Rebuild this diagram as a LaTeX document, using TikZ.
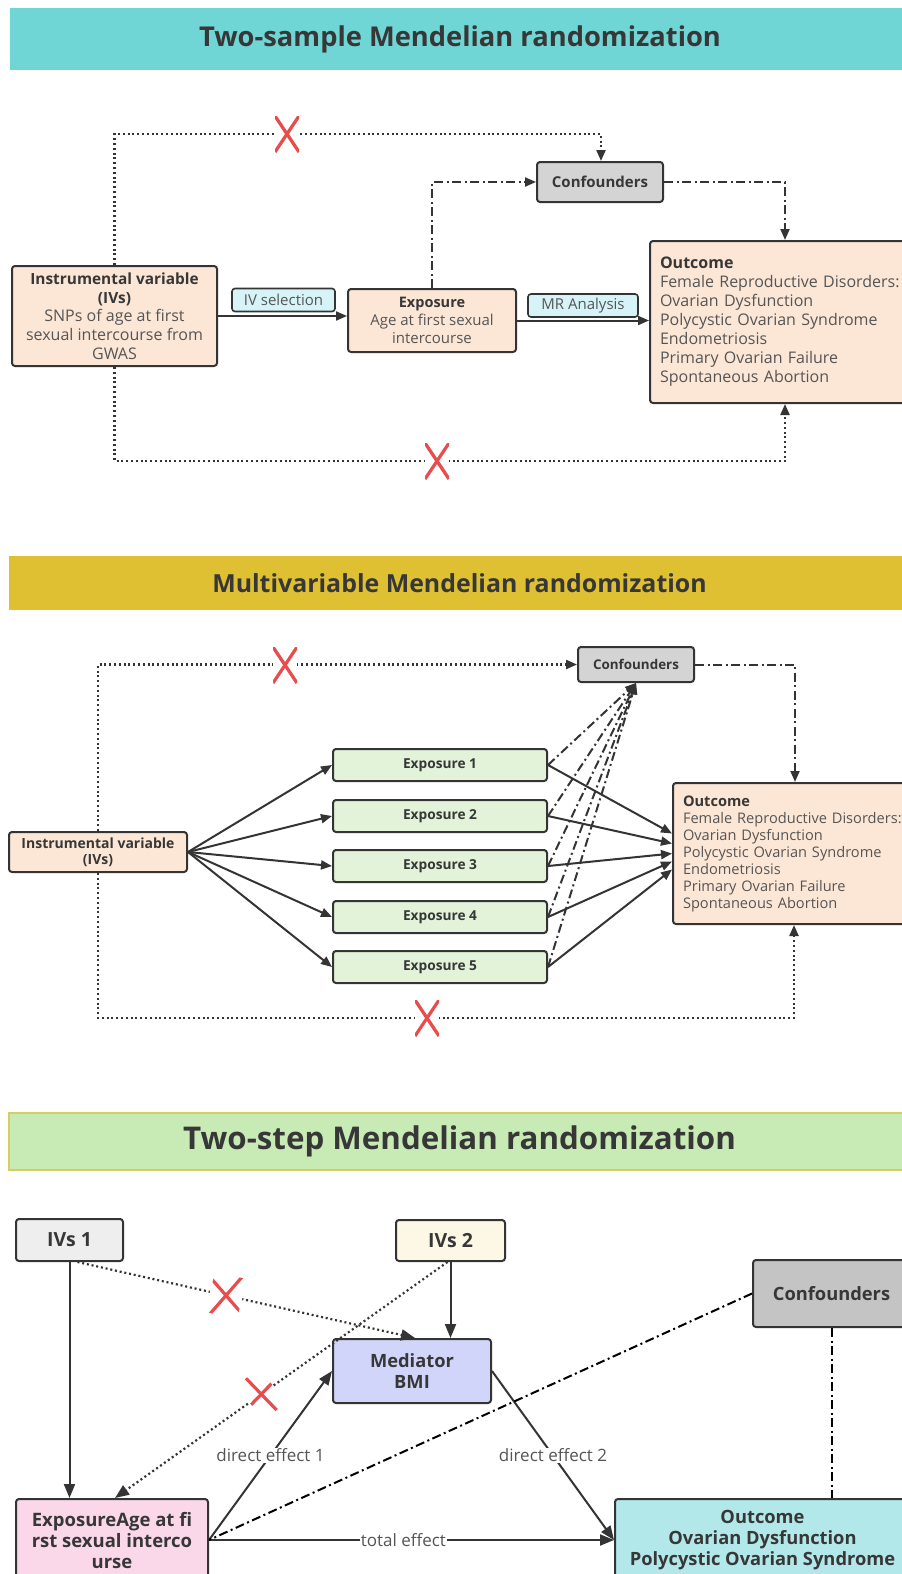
\documentclass[tikz,border=0pt]{standalone}
\usepackage{fontspec}
\setmainfont{Open Sans}
\usetikzlibrary{arrows.meta,positioning,calc}
\definecolor{linec}{RGB}{52,52,52}
\definecolor{textc}{RGB}{55,55,55}
\definecolor{bodyc}{RGB}{85,85,85}
\definecolor{bandA}{RGB}{112,213,213}
\definecolor{bandB}{RGB}{222,192,50}
\definecolor{bandC}{RGB}{200,235,182}
\definecolor{bandCline}{RGB}{216,206,96}
\definecolor{peach}{RGB}{252,231,215}
\definecolor{tagc}{RGB}{214,243,247}
\definecolor{greyA}{RGB}{212,212,212}
\definecolor{greyB}{RGB}{238,238,238}
\definecolor{greyC}{RGB}{196,196,196}
\definecolor{greenA}{RGB}{226,243,218}
\definecolor{cream}{RGB}{253,248,230}
\definecolor{lav}{RGB}{210,213,250}
\definecolor{pinkA}{RGB}{250,216,234}
\definecolor{cyanB}{RGB}{178,232,234}
\definecolor{xred}{RGB}{232,76,76}
\newcommand{\setfs}[2]{\fontsize{#1}{#2}\selectfont}

\begin{document}
\begin{tikzpicture}[x=1pt,y=1pt,
  box/.style={draw=linec,line width=2pt,rounded corners=3pt,text=textc,align=center,inner sep=2pt},
  tag/.style={box,line width=1.6pt,fill=tagc,text=bodyc,font=\setfs{15}{17},minimum height=23pt},
  band/.style={minimum width=901pt,text=textc,inner sep=0pt},
  arr/.style={draw=linec,line width=2pt,-{Triangle[length=11pt,width=9pt]}},
  arrB/.style={draw=linec,line width=2pt,-{Triangle[length=14pt,width=11pt]}},
  dotline/.style={line width=2.2pt,dash pattern=on 2pt off 2.8pt},
  dashdot/.style={line width=2pt,dash pattern=on 9pt off 3.5pt on 2pt off 3.5pt},
  lab/.style={fill=white,text=bodyc,font=\setfs{17}{19},inner sep=1pt},
  nox/.style={fill=white,inner sep=0pt,minimum width=24pt,minimum height=36pt,
    path picture={\draw[-,solid,line width=3.2pt,draw=xred]
      (path picture bounding box.south west) -- (path picture bounding box.north east)
      (path picture bounding box.north west) -- (path picture bounding box.south east);}}]

\clip (0,0) rectangle (902,-1574);
\fill[white] (0,0) rectangle (902,-1574);

\node[band,fill=bandA,minimum height=62pt,font={\setfs{27.3}{31}\bfseries}] (title1) at (460,-39) {Two-sample Mendelian randomization};

\node[box,fill=peach,minimum width=205pt,minimum height=100pt,text=bodyc,font=\setfs{16}{18.7}] (iv1) at (114.5,-316)
  {\textbf{\color{textc}\setfs{15.4}{18.7}Instrumental variable}\\\textbf{\color{textc}\setfs{15.4}{18.7}(IVs)}\\SNPs of age at first\\sexual intercourse from\\GWAS};
\node[box,fill=peach,minimum width=168pt,minimum height=63pt,text=bodyc,font=\setfs{15}{18}] (exp1) at (432,-320.5)
  {\textbf{\color{textc}\setfs{14.5}{18}Exposure}\\Age at first sexual\\intercourse};
\node[box,fill=greyA,minimum width=126pt,minimum height=40pt,font={\setfs{15}{17}\bfseries}] (conf1) at (600,-182) {Confounders};
\node[box,fill=peach,anchor=north west,minimum height=162pt,text width=250pt,inner xsep=10pt,align=left,text=bodyc,font=\setfs{16}{19}] (out1) at (649,-240)
  {\textbf{\color{textc}Outcome}\\Female Reproductive Disorders:\\Ovarian Dysfunction\\Polycystic Ovarian Syndrome\\Endometriosis\\Primary Ovarian Failure\\Spontaneous Abortion\\[3pt]};

\draw[arr] (iv1.east) -- (iv1.east -| exp1.west);
\draw[arr] (exp1.east) -- (exp1.east -| out1.west);
\node[tag,minimum width=103pt] (sel) at (283.5,-300) {IV selection};
\node[tag,minimum width=110pt] (mr) at (583,-305.5) {MR Analysis};

\coordinate (top1) at (114.5,-134);
\draw[arr,dotline] (iv1.north) -- (top1) -| ([xshift=1pt]conf1.north);
\draw[arr,dashdot] (exp1.north) |- (conf1.west);
\draw[arr,dashdot] (conf1.east) -| (out1.north);
\coordinate (bot1) at (114.5,-461);
\draw[arr,dotline] (iv1.south) -- (bot1) -| (out1.south);
\node[nox] (x1) at (287,-134) {};
\node[nox] (x2) at (437,-461) {};

\node[band,fill=bandB,minimum height=54pt,font={\setfs{24.9}{28}\bfseries}] (title2) at (459.5,-583) {Multivariable Mendelian randomization};

\node[box,fill=peach,minimum width=178pt,minimum height=40pt,font={\setfs{14}{16}\bfseries}] (iv2) at (98,-852) {Instrumental variable\\(IVs)};
\foreach \i/\y in {1/765,2/816,3/866,4/917,5/967}
  \node[box,fill=greenA,minimum width=214pt,minimum height=32pt,font={\setfs{13.7}{15}\bfseries}] (e\i) at (440,-\y) {Exposure \i};
\node[box,fill=greyA,minimum width=116pt,minimum height=35pt,font={\setfs{13.4}{15}\bfseries}] (conf2) at (636,-664.5) {Confounders};
\node[box,fill=peach,anchor=north west,minimum height=141pt,text width=240pt,inner xsep=10pt,align=left,text=bodyc,font=\setfs{14.6}{17}] (out2) at (672,-782)
  {\textbf{\color{textc}Outcome}\\Female Reproductive Disorders:\\Ovarian Dysfunction\\Polycystic Ovarian Syndrome\\Endometriosis\\Primary Ovarian Failure\\Spontaneous Abortion\\[3pt]};

\foreach \i/\d in {1/20,2/10,3/0,4/-8,5/-16}{
  \draw[arr] (iv2.east) -- (e\i.west);
  \draw[arr] (e\i.east) -- ([yshift=\d pt]out2.west);
  \draw[arr,dashdot] (e\i.east) -- (conf2.south);
}
\draw[arr,dotline] (iv2.north) |- (conf2.west);
\draw[arr,dashdot] (conf2.east) -| ([xshift=-8pt]out2.north);
\coordinate (bot2) at (98,-1018);
\draw[arr,dotline] (iv2.south) -- (bot2) -| ([xshift=-9pt]out2.south);
\node[nox] (x3) at (285,-665) {};
\node[nox] (x4) at (427,-1018) {};

\node[band,fill=bandC,draw=bandCline,line width=1.5pt,minimum height=57pt,font={\setfs{31.3}{35}\bfseries}] (title3) at (459.5,-1141.5) {Two-step Mendelian randomization};

\node[box,fill=greyB,minimum width=107pt,minimum height=42pt,font={\setfs{19.5}{21}\bfseries}] (ivs1) at (69.5,-1240) {IVs 1};
\node[box,fill=cream,minimum width=109pt,minimum height=41pt,font={\setfs{19.5}{21}\bfseries}] (ivs2) at (450.5,-1240.5) {IVs 2};
\node[box,fill=lav,minimum width=158pt,minimum height=64pt,font={\setfs{18.3}{21}\bfseries}] (med) at (412,-1371) {Mediator\\BMI};
\node[box,fill=pinkA,minimum width=192pt,minimum height=82pt,font={\setfs{18.5}{21}\bfseries}] (exp3) at (112,-1540) {ExposureAge at fi\\rst sexual interco\\urse};
\node[box,fill=cyanB,minimum width=295pt,minimum height=82pt,font={\setfs{18.3}{21}\bfseries}] (out3) at (762.5,-1540) {Outcome\\Ovarian Dysfunction\\Polycystic Ovarian Syndrome};
\node[box,fill=greyC,minimum width=157pt,minimum height=67pt,font={\setfs{18.3}{21}\bfseries}] (conf3) at (831.5,-1293.5) {Confounders};

\draw[arrB] (ivs1.south) -- (ivs1.south |- exp3.north);
\draw[arrB] (ivs2.south) -- (ivs2.south |- med.north);
\draw[arrB,dotline] ([xshift=8pt]ivs1.south) -- node[nox,pos=0.44,minimum width=33pt,minimum height=42pt,rotate=-15] (x5) {} ([xshift=3pt]med.north);
\draw[arrB,dotline] ([xshift=-3pt]ivs2.south) -- node[nox,pos=0.56,minimum width=29pt,minimum height=44pt,rotate=40] (x6) {} ([xshift=3pt]exp3.north);
\draw[arrB] (exp3.east) -- node[lab] (d1) {direct effect 1} (med.west);
\draw[arrB] (med.east) -- node[lab] (d2) {direct effect 2} (out3.west);
\draw[arrB] (exp3.east) -- node[lab,pos=0.48] (te) {total effect} (out3.west);
\draw[dashdot] (conf3.west) -- (exp3.east);
\draw[dashdot] (conf3.south) -- (conf3.south |- out3.north);
\end{tikzpicture}
\end{document}
